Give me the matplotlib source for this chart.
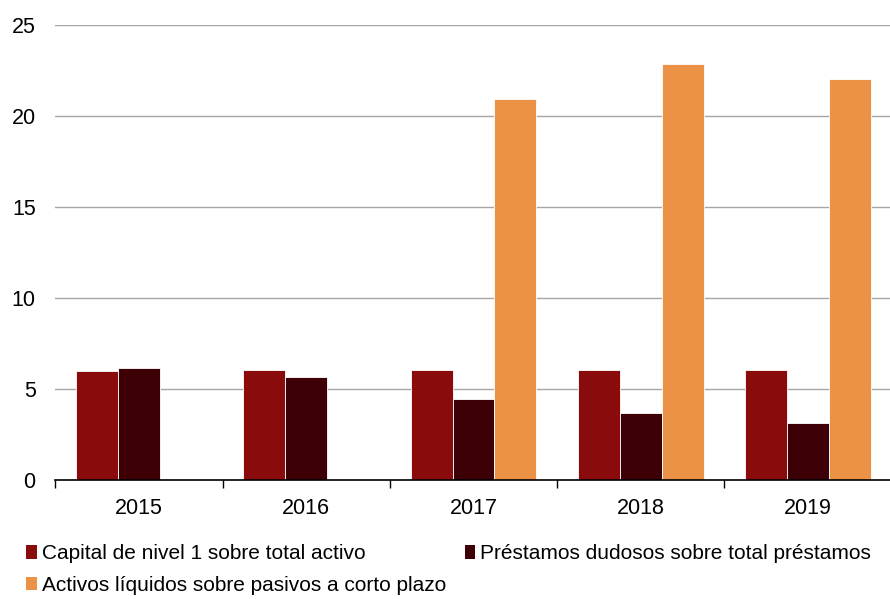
import numpy as np
import matplotlib.pyplot as plt
from matplotlib.patches import Patch

# datos
years = ["2015", "2016", "2017", "2018", "2019"]
capital = [6.0, 6.06, 6.06, 6.06, 6.06]
dudosos = [6.14, 5.64, 4.43, 3.66, 3.11]
liquidos = [np.nan, np.nan, 20.92, 22.84, 22.05]

labels = ["Capital de nivel 1 sobre total activo",
          "Préstamos dudosos sobre total préstamos",
          "Activos líquidos sobre pasivos a corto plazo"]
colors = ["#8A0B0B", "#3D0006", "#EC9247"]

plt.rcParams["font.family"] = ["Liberation Sans", "DejaVu Sans"]

fig = plt.figure(figsize=(8.9, 5.99), dpi=100)
ax = fig.add_axes([0.062, 0.199, 0.94, 0.759])

x = np.arange(len(years))
w = 0.25
for i, (vals, col) in enumerate(zip([capital, dudosos, liquidos], colors)):
    ax.bar(x + (i - 1) * w, vals, width=w, color=col, edgecolor="white",
           linewidth=0.6, zorder=3)

ax.set_xlim(-0.5, len(years) - 0.5)
ax.set_ylim(0, 25)
ax.set_yticks([0, 5, 10, 15, 20, 25])
ax.yaxis.grid(True, color="#a6a6a6", linewidth=1.0, zorder=0)
ax.tick_params(axis="y", length=0, labelsize=15.5, pad=14)

ax.set_xticks(x)
ax.set_xticklabels(years, fontsize=15.5)
ax.tick_params(axis="x", length=0, pad=13)
ax.set_xticks(np.arange(len(years) + 1) - 0.5, minor=True)
ax.tick_params(axis="x", which="minor", length=6, width=1, color="black")

for s in ["top", "right", "left"]:
    ax.spines[s].set_visible(False)
ax.spines["bottom"].set_color("black")
ax.spines["bottom"].set_linewidth(1.2)
ax.spines["bottom"].set_zorder(4)

# orden por filas: col 1 = capital, activos; col 2 = préstamos
order = [0, 2, 1]
handles = [Patch(facecolor=colors[k], edgecolor="none") for k in order]
fig.legend(handles, [labels[k] for k in order], ncol=2, loc="upper left",
           bbox_to_anchor=(0.02, 0.105), frameon=False, fontsize=15,
           handlelength=0.5, handleheight=0.6, handletextpad=0.25,
           columnspacing=0.9, labelspacing=0.6, borderaxespad=0)

fig.savefig("out.png", dpi=100)
